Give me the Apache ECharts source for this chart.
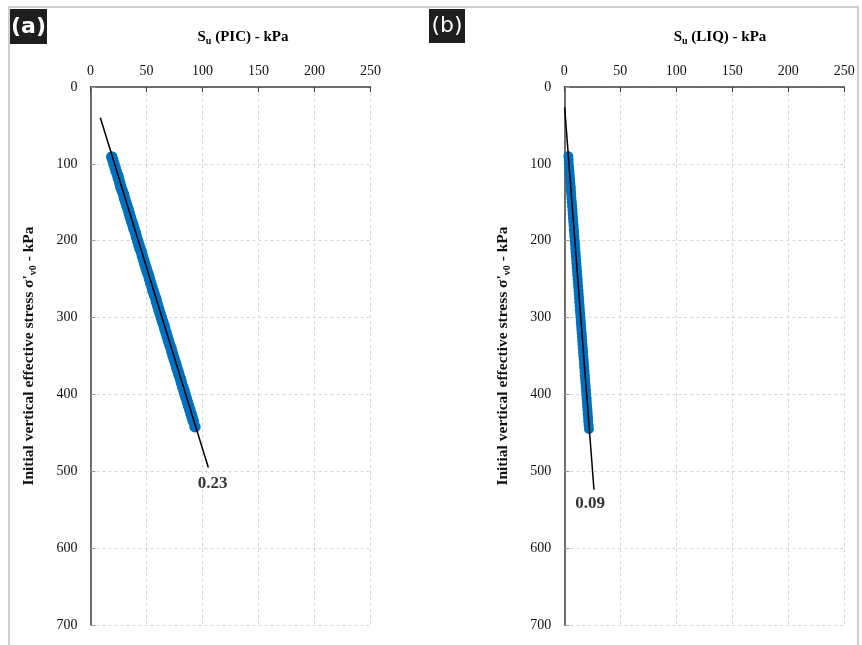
<!DOCTYPE html>
<html><head><meta charset="utf-8">
<script src="https://cdn.jsdelivr.net/npm/echarts@6/dist/echarts.min.js"></script>
<style>html,body{margin:0;padding:0;background:#fff}#c{width:862px;height:645px}</style>
</head><body><div id="c"></div>
<script>
// ---- data ----
const panelLabels = ['(a)', '(b)'];
const xTitles = ['PIC', 'LIQ'];
const slopeLabels = ['0.23', '0.09'];

// (a) S_u(PIC) band: initial vertical effective stress (kPa) and S_u (kPa)
const picStress = [91, 95, 100, 105, 110, 115, 120, 125, 130, 135, 140, 145, 150, 155, 160, 165, 170, 175, 180, 185,
  190, 195, 200, 205, 210, 215, 220, 225, 230, 235, 240, 245, 250, 255, 260, 265, 270, 275, 280, 285,
  290, 295, 300, 305, 310, 315, 320, 325, 330, 335, 340, 345, 350, 355, 360, 365, 370, 375, 380, 385,
  390, 395, 400, 405, 410, 415, 420, 425, 430, 435, 442];
const picSu = [19.0, 19.9, 20.9, 22.0, 23.0, 24.3, 25.2, 26.2, 27.0, 28.3, 29.6, 30.4, 31.5, 32.6, 33.8, 34.7, 35.7, 36.8, 37.9, 38.9,
  40.2, 41.0, 42.1, 43.1, 44.2, 45.5, 46.3, 47.4, 48.4, 49.5, 50.6, 51.8, 52.7, 53.7, 54.8, 55.8, 56.9, 58.2, 59.0, 60.1,
  61.1, 62.2, 63.3, 64.3, 65.6, 66.4, 67.5, 68.5, 69.6, 70.7, 71.9, 72.8, 73.8, 74.9, 76.0, 77.0, 78.1, 79.1, 80.4, 81.2,
  82.3, 83.4, 84.4, 85.5, 86.5, 87.6, 88.7, 89.7, 90.8, 91.8, 93.3];
// (b) S_u(LIQ) band
const liqStress = [90, 95, 100, 105, 110, 115, 120, 125, 130, 135, 140, 145, 150, 155, 160, 165, 170, 175, 180, 185,
  190, 195, 200, 205, 210, 215, 220, 225, 230, 235, 240, 245, 250, 255, 260, 265, 270, 275, 280, 285,
  290, 295, 300, 305, 310, 315, 320, 325, 330, 335, 340, 345, 350, 355, 360, 365, 370, 375, 380, 385,
  390, 395, 400, 405, 410, 415, 420, 425, 430, 435, 440, 445];
const liqSu = [3.6, 3.9, 4.0, 4.4, 4.6, 4.9, 5.2, 5.4, 5.8, 5.9, 6.2, 6.4, 6.7, 7.0, 7.3, 7.5, 7.7, 8.0, 8.3, 8.5,
  8.8, 9.0, 9.3, 9.6, 9.8, 10.1, 10.3, 10.6, 10.8, 11.1, 11.4, 11.6, 11.9, 12.1, 12.4, 12.7, 12.9, 13.2, 13.4, 13.7,
  13.9, 14.2, 14.5, 14.7, 15.0, 15.2, 15.5, 15.8, 16.0, 16.3, 16.5, 16.8, 17.0, 17.3, 17.6, 17.8, 18.1, 18.3, 18.6, 18.8,
  19.1, 19.4, 19.6, 19.9, 20.1, 20.4, 20.7, 20.9, 21.2, 21.4, 21.7, 22.0];
// trend lines
const picTrendSu = [8.8, 105.2];
const picTrendStress = [40, 495];
const liqTrendSu = [0.3, 26.5];
const liqTrendStress = [26.5, 524];

const serif = "'Liberation Serif','Times New Roman',serif";
const zip = (xs, ys) => xs.map((x, i) => [x, ys[i]]);

const chart = echarts.init(document.getElementById('c'), null, {renderer: 'canvas'});

function xAxisCfg(gi) {
  return {
    gridIndex: gi, type: 'value', position: 'top', min: 0, max: 250, interval: 50,
    axisLine: {show: true, onZero: false, lineStyle: {color: '#404040', width: 1.5}},
    axisTick: {show: true, inside: true, length: 5, lineStyle: {color: '#404040'}},
    axisLabel: {margin: 9, fontFamily: serif, fontSize: 14, color: '#111'},
    splitLine: {show: true, lineStyle: {type: [3, 3], color: '#d6d6d6', width: 1}}
  };
}
function yAxisCfg(gi) {
  return {
    gridIndex: gi, type: 'value', inverse: true, min: 0, max: 700, interval: 100,
    name: "{b|Initial vertical effective stress σ'}{s|v0}{b| - kPa}",
    nameLocation: 'middle', nameGap: 52, nameRotate: 90,
    nameTextStyle: {
      rich: {
        b: {fontFamily: serif, fontWeight: 'bold', fontSize: 15.5, color: '#111', lineHeight: 19},
        s: {fontFamily: serif, fontWeight: 'bold', fontSize: 10, color: '#111', lineHeight: 19, verticalAlign: 'bottom'}
      }
    },
    axisLine: {show: true, onZero: false, lineStyle: {color: '#404040', width: 1.5}},
    axisTick: {show: true, inside: true, length: 5, lineStyle: {color: '#9a9a9a'}},
    axisLabel: {margin: 13, fontFamily: serif, fontSize: 14, color: '#111'},
    splitLine: {show: true, lineStyle: {type: [3, 3], color: '#d6d6d6', width: 1}}
  };
}

const titleRich = {
  b: {fontFamily: serif, fontWeight: 'bold', fontSize: 15, color: '#111', lineHeight: 18},
  s: {fontFamily: serif, fontWeight: 'bold', fontSize: 10, color: '#111', lineHeight: 18, verticalAlign: 'bottom'}
};
const bandStyle = {color: '#0070C0', opacity: 1, borderWidth: 0, borderColor: 'transparent', shadowBlur: 0};
const slopeLabelStyle = {show: true, position: 'inside', fontFamily: serif, fontWeight: 'bold',
  fontSize: 17, color: '#000', textBorderWidth: 0};

const option = {
  animation: false,
  backgroundColor: '#fff',
  grid: [
    {left: 90.5, top: 87, width: 280, height: 538},
    {left: 564.3, top: 87, width: 280, height: 538}
  ],
  xAxis: [xAxisCfg(0), xAxisCfg(1)],
  yAxis: [yAxisCfg(0), yAxisCfg(1)],
  graphic: [
    {type: 'polyline', silent: true, shape: {points: [[9, 650], [9, 7], [858, 7], [858, 650]]},
      style: {stroke: '#cfcfcf', lineWidth: 2, fill: null}},
    {type: 'rect', shape: {x: 10, y: 9, width: 37, height: 35}, style: {fill: '#1e1e1e'}},
    {type: 'text', style: {text: panelLabels[0], x: 28.5, y: 27, align: 'center', verticalAlign: 'middle',
      fill: '#fff', font: "bold 22px 'DejaVu Sans', sans-serif"}},
    {type: 'rect', shape: {x: 429, y: 9, width: 36, height: 34}, style: {fill: '#1e1e1e'}},
    {type: 'text', style: {text: panelLabels[1], x: 447, y: 26, align: 'center', verticalAlign: 'middle',
      fill: '#fff', font: "22px 'DejaVu Sans', sans-serif"}},
    {type: 'text', style: {text: '{b|S}{s|u}{b| (' + xTitles[0] + ') - kPa}', rich: titleRich,
      x: 243, y: 37, align: 'center', verticalAlign: 'middle'}},
    {type: 'text', style: {text: '{b|S}{s|u}{b| (' + xTitles[1] + ') - kPa}', rich: titleRich,
      x: 720, y: 37, align: 'center', verticalAlign: 'middle'}}
  ],
  series: [
    {type: 'scatter', xAxisIndex: 0, yAxisIndex: 0, data: zip(picSu, picStress),
      symbol: 'circle', symbolSize: 11.5, itemStyle: bandStyle, emphasis: {disabled: true}, z: 2},
    {type: 'line', xAxisIndex: 0, yAxisIndex: 0, data: zip(picTrendSu, picTrendStress),
      showSymbol: false, symbol: 'none', lineStyle: {color: '#000', width: 1.5}, z: 3},
    {type: 'scatter', xAxisIndex: 0, yAxisIndex: 0, data: [[109, 516]], symbolSize: 0, silent: true,
      label: Object.assign({formatter: slopeLabels[0]}, slopeLabelStyle), z: 4},
    {type: 'scatter', xAxisIndex: 1, yAxisIndex: 1, data: zip(liqSu, liqStress),
      symbol: 'circle', symbolSize: 10, itemStyle: bandStyle, emphasis: {disabled: true}, z: 2},
    {type: 'line', xAxisIndex: 1, yAxisIndex: 1, data: zip(liqTrendSu, liqTrendStress),
      showSymbol: false, symbol: 'none', lineStyle: {color: '#000', width: 1.5}, z: 3},
    {type: 'scatter', xAxisIndex: 1, yAxisIndex: 1, data: [[23, 542]], symbolSize: 0, silent: true,
      label: Object.assign({formatter: slopeLabels[1]}, slopeLabelStyle), z: 4}
  ]
};
chart.setOption(option);
</script>
</body></html>
